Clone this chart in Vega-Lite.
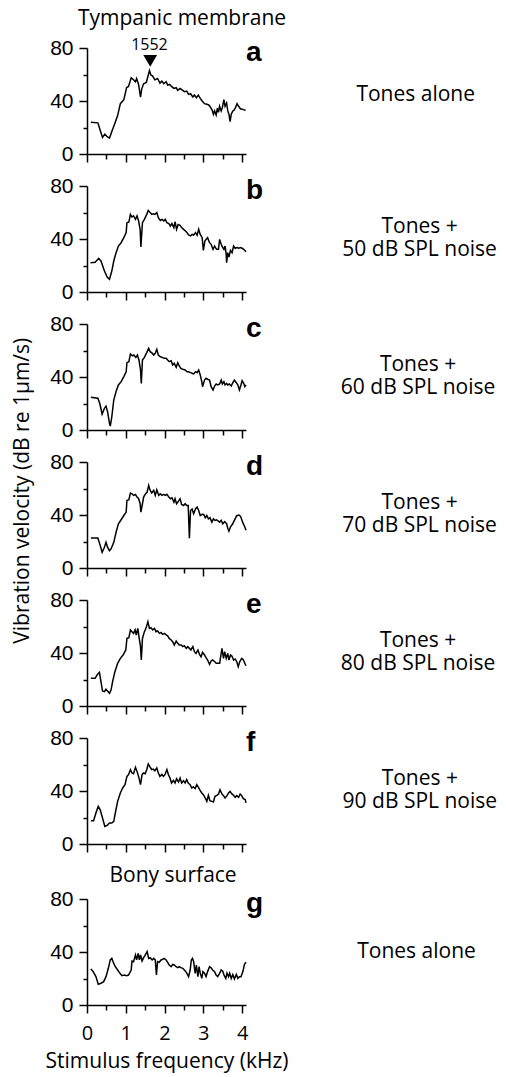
{
  "$schema": "https://vega.github.io/schema/vega-lite/v6.json",
  "padding": {"left": 12, "top": 8, "right": 0, "bottom": 6},
  "title": {"text": "Vibration velocity (dB re 1µm/s)", "orient": "left", "anchor": "middle", "offset": 12, "dx": 49},
  "spacing": 11,
  "datasets": {
    "a": [{"f":0.10,"v":24},{"f":0.28,"v":23.5},{"f":0.34,"v":18},{"f":0.40,"v":12.5},{"f":0.46,"v":15},{"f":0.52,"v":13},{"f":0.58,"v":12},{"f":0.64,"v":17},{"f":0.71,"v":22.5},{"f":0.79,"v":29},{"f":0.86,"v":38},{"f":0.95,"v":41},{"f":1.02,"v":50},{"f":1.07,"v":51},{"f":1.14,"v":57.5},{"f":1.20,"v":56},{"f":1.25,"v":54.5},{"f":1.28,"v":57},{"f":1.33,"v":52.5},{"f":1.38,"v":43},{"f":1.41,"v":49},{"f":1.46,"v":53},{"f":1.53,"v":54},{"f":1.61,"v":63},{"f":1.65,"v":59.5},{"f":1.69,"v":59},{"f":1.75,"v":56},{"f":1.82,"v":57},{"f":1.88,"v":53.5},{"f":1.93,"v":55},{"f":1.98,"v":53},{"f":2.04,"v":54.5},{"f":2.08,"v":52},{"f":2.13,"v":52.5},{"f":2.18,"v":51},{"f":2.24,"v":49.5},{"f":2.30,"v":50},{"f":2.34,"v":48},{"f":2.40,"v":49.5},{"f":2.47,"v":48},{"f":2.51,"v":47},{"f":2.57,"v":47.5},{"f":2.62,"v":45},{"f":2.67,"v":45.5},{"f":2.73,"v":43},{"f":2.77,"v":44.5},{"f":2.82,"v":42.5},{"f":2.87,"v":44.5},{"f":2.92,"v":42},{"f":2.97,"v":40},{"f":3.03,"v":38},{"f":3.09,"v":37.5},{"f":3.14,"v":37},{"f":3.18,"v":35.5},{"f":3.23,"v":33},{"f":3.26,"v":30},{"f":3.29,"v":32.5},{"f":3.33,"v":29.5},{"f":3.36,"v":34.5},{"f":3.39,"v":31.5},{"f":3.42,"v":36},{"f":3.46,"v":32.5},{"f":3.49,"v":35},{"f":3.53,"v":41},{"f":3.56,"v":36},{"f":3.60,"v":38.5},{"f":3.63,"v":32.5},{"f":3.66,"v":30},{"f":3.69,"v":24.5},{"f":3.72,"v":30},{"f":3.76,"v":32.5},{"f":3.79,"v":33},{"f":3.83,"v":35},{"f":3.87,"v":38},{"f":3.91,"v":36},{"f":3.96,"v":34},{"f":3.99,"v":34},{"f":4.03,"v":33.5},{"f":4.09,"v":33}],
    "b": [{"f":0.09,"v":22},{"f":0.21,"v":22.5},{"f":0.30,"v":25.4},{"f":0.36,"v":23.4},{"f":0.45,"v":15.8},{"f":0.52,"v":11.3},{"f":0.58,"v":9.6},{"f":0.64,"v":15.8},{"f":0.69,"v":23.4},{"f":0.75,"v":29.7},{"f":0.81,"v":34.7},{"f":0.88,"v":37.2},{"f":0.95,"v":41},{"f":1.01,"v":44.8},{"f":1.03,"v":52.3},{"f":1.08,"v":52.8},{"f":1.12,"v":58.6},{"f":1.16,"v":56.6},{"f":1.20,"v":57.4},{"f":1.25,"v":54.8},{"f":1.29,"v":57.4},{"f":1.33,"v":53.6},{"f":1.37,"v":47.3},{"f":1.39,"v":34},{"f":1.43,"v":52.3},{"f":1.48,"v":54.8},{"f":1.54,"v":58.6},{"f":1.58,"v":61.6},{"f":1.63,"v":59.9},{"f":1.67,"v":58.6},{"f":1.71,"v":59},{"f":1.75,"v":58.6},{"f":1.80,"v":59.9},{"f":1.84,"v":56.1},{"f":1.89,"v":54},{"f":1.94,"v":54.8},{"f":1.98,"v":53.6},{"f":2.02,"v":54.8},{"f":2.06,"v":52.3},{"f":2.11,"v":51.6},{"f":2.15,"v":49.8},{"f":2.19,"v":51.6},{"f":2.24,"v":48.6},{"f":2.27,"v":53},{"f":2.31,"v":47.3},{"f":2.35,"v":51},{"f":2.40,"v":50.3},{"f":2.44,"v":48.6},{"f":2.49,"v":47.3},{"f":2.54,"v":46},{"f":2.58,"v":44.8},{"f":2.62,"v":43},{"f":2.67,"v":42.3},{"f":2.71,"v":43.5},{"f":2.75,"v":43},{"f":2.80,"v":44.8},{"f":2.84,"v":42.8},{"f":2.88,"v":47.3},{"f":2.92,"v":43.5},{"f":2.97,"v":41},{"f":3.00,"v":31.4},{"f":3.04,"v":38.5},{"f":3.07,"v":39.7},{"f":3.11,"v":41},{"f":3.16,"v":37.2},{"f":3.20,"v":36},{"f":3.25,"v":32.2},{"f":3.29,"v":34.7},{"f":3.34,"v":32.2},{"f":3.39,"v":32.2},{"f":3.42,"v":39.7},{"f":3.46,"v":36},{"f":3.49,"v":34},{"f":3.53,"v":32.2},{"f":3.56,"v":34.7},{"f":3.59,"v":28.4},{"f":3.60,"v":22.1},{"f":3.63,"v":29.7},{"f":3.66,"v":26.4},{"f":3.70,"v":31.4},{"f":3.74,"v":29.7},{"f":3.78,"v":34.7},{"f":3.82,"v":33},{"f":3.87,"v":33.5},{"f":3.91,"v":33},{"f":3.96,"v":33.5},{"f":4.00,"v":33},{"f":4.04,"v":32.2},{"f":4.10,"v":30.4}],
    "c": [{"f":0.10,"v":24.7},{"f":0.28,"v":24},{"f":0.33,"v":20},{"f":0.39,"v":12},{"f":0.45,"v":16.4},{"f":0.49,"v":18},{"f":0.53,"v":13.8},{"f":0.58,"v":5},{"f":0.60,"v":3},{"f":0.64,"v":10},{"f":0.69,"v":22.6},{"f":0.75,"v":29},{"f":0.81,"v":34},{"f":0.88,"v":36.5},{"f":0.95,"v":40.3},{"f":1.01,"v":44},{"f":1.03,"v":50.8},{"f":1.08,"v":51.5},{"f":1.12,"v":57.4},{"f":1.17,"v":56},{"f":1.21,"v":56.6},{"f":1.26,"v":54.8},{"f":1.30,"v":56.6},{"f":1.34,"v":52.8},{"f":1.38,"v":45.3},{"f":1.40,"v":35.2},{"f":1.43,"v":52.8},{"f":1.48,"v":54.8},{"f":1.54,"v":58.4},{"f":1.59,"v":61.6},{"f":1.63,"v":59.1},{"f":1.68,"v":58},{"f":1.72,"v":56.6},{"f":1.76,"v":57.9},{"f":1.80,"v":60.9},{"f":1.84,"v":56.6},{"f":1.89,"v":55.3},{"f":1.94,"v":54.8},{"f":1.99,"v":54.1},{"f":2.04,"v":54.1},{"f":2.08,"v":52.8},{"f":2.12,"v":51.6},{"f":2.17,"v":52.3},{"f":2.21,"v":49},{"f":2.25,"v":50.3},{"f":2.30,"v":47.3},{"f":2.34,"v":50.8},{"f":2.38,"v":48.3},{"f":2.42,"v":46.5},{"f":2.47,"v":45.8},{"f":2.53,"v":45.3},{"f":2.58,"v":44},{"f":2.62,"v":44},{"f":2.67,"v":43.3},{"f":2.71,"v":42.8},{"f":2.75,"v":42.3},{"f":2.80,"v":44},{"f":2.84,"v":43.3},{"f":2.88,"v":45.3},{"f":2.92,"v":41.5},{"f":2.96,"v":36.5},{"f":2.98,"v":32.7},{"f":3.03,"v":37.7},{"f":3.07,"v":39},{"f":3.11,"v":38.3},{"f":3.16,"v":37.7},{"f":3.20,"v":32.7},{"f":3.25,"v":30.2},{"f":3.29,"v":33.2},{"f":3.33,"v":34.7},{"f":3.37,"v":34},{"f":3.42,"v":34.7},{"f":3.46,"v":37.7},{"f":3.49,"v":34.7},{"f":3.53,"v":36.5},{"f":3.56,"v":34},{"f":3.60,"v":35.2},{"f":3.63,"v":34},{"f":3.67,"v":34.7},{"f":3.72,"v":33.2},{"f":3.76,"v":35.7},{"f":3.80,"v":37.7},{"f":3.85,"v":35.7},{"f":3.89,"v":34},{"f":3.93,"v":30.2},{"f":3.97,"v":34},{"f":4.00,"v":37.2},{"f":4.04,"v":35.2},{"f":4.07,"v":32.7},{"f":4.10,"v":34}],
    "d": [{"f":0.10,"v":22.7},{"f":0.28,"v":22.7},{"f":0.33,"v":18},{"f":0.39,"v":11.9},{"f":0.45,"v":15.7},{"f":0.49,"v":19.4},{"f":0.53,"v":15.7},{"f":0.58,"v":13.1},{"f":0.62,"v":14.4},{"f":0.69,"v":19.4},{"f":0.75,"v":27},{"f":0.81,"v":33.3},{"f":0.88,"v":36.4},{"f":0.95,"v":39.6},{"f":1.01,"v":42.2},{"f":1.03,"v":51},{"f":1.08,"v":51.5},{"f":1.12,"v":56.6},{"f":1.16,"v":56},{"f":1.20,"v":54.8},{"f":1.25,"v":55.5},{"f":1.29,"v":53.5},{"f":1.33,"v":52.5},{"f":1.37,"v":48.5},{"f":1.39,"v":42.2},{"f":1.43,"v":48.5},{"f":1.46,"v":53.5},{"f":1.50,"v":55.6},{"f":1.55,"v":57.3},{"f":1.59,"v":62.4},{"f":1.63,"v":58.6},{"f":1.67,"v":56.6},{"f":1.72,"v":58.6},{"f":1.76,"v":54.8},{"f":1.80,"v":59.1},{"f":1.85,"v":54.8},{"f":1.89,"v":56},{"f":1.93,"v":54.8},{"f":1.98,"v":55.6},{"f":2.02,"v":54.8},{"f":2.06,"v":55.6},{"f":2.11,"v":53.5},{"f":2.15,"v":52.3},{"f":2.19,"v":53},{"f":2.24,"v":49.7},{"f":2.27,"v":52.3},{"f":2.31,"v":48.5},{"f":2.36,"v":50.5},{"f":2.40,"v":52.3},{"f":2.44,"v":48},{"f":2.49,"v":47.2},{"f":2.53,"v":48.5},{"f":2.57,"v":47.2},{"f":2.61,"v":47.2},{"f":2.64,"v":22.5},{"f":2.67,"v":43.4},{"f":2.71,"v":44.5},{"f":2.75,"v":40.9},{"f":2.80,"v":44.7},{"f":2.84,"v":46},{"f":2.88,"v":43.4},{"f":2.92,"v":39.6},{"f":2.97,"v":40.5},{"f":3.01,"v":40.4},{"f":3.05,"v":37.9},{"f":3.09,"v":39.6},{"f":3.13,"v":37.1},{"f":3.17,"v":38},{"f":3.22,"v":34.6},{"f":3.26,"v":37.1},{"f":3.30,"v":35.9},{"f":3.34,"v":36.4},{"f":3.39,"v":35.4},{"f":3.42,"v":34.6},{"f":3.46,"v":36},{"f":3.50,"v":33.3},{"f":3.55,"v":35},{"f":3.60,"v":33.5},{"f":3.63,"v":30},{"f":3.66,"v":27.8},{"f":3.70,"v":31},{"f":3.75,"v":33},{"f":3.80,"v":36},{"f":3.86,"v":39.5},{"f":3.92,"v":40},{"f":3.96,"v":39},{"f":4.02,"v":34},{"f":4.07,"v":31},{"f":4.10,"v":28.5}],
    "e": [{"f":0.10,"v":20.9},{"f":0.21,"v":20.9},{"f":0.26,"v":23.4},{"f":0.32,"v":25.4},{"f":0.36,"v":18.4},{"f":0.40,"v":11.3},{"f":0.45,"v":10.8},{"f":0.49,"v":12.6},{"f":0.53,"v":11.3},{"f":0.58,"v":9.6},{"f":0.62,"v":12},{"f":0.66,"v":18.4},{"f":0.72,"v":25.9},{"f":0.79,"v":32.2},{"f":0.86,"v":36},{"f":0.93,"v":38.5},{"f":1.00,"v":42.3},{"f":1.03,"v":51},{"f":1.08,"v":51.5},{"f":1.12,"v":57.4},{"f":1.16,"v":56},{"f":1.20,"v":54.8},{"f":1.24,"v":57.4},{"f":1.27,"v":53.6},{"f":1.31,"v":58.6},{"f":1.34,"v":52.3},{"f":1.38,"v":44.8},{"f":1.40,"v":34.7},{"f":1.43,"v":51},{"f":1.48,"v":56.1},{"f":1.52,"v":58.6},{"f":1.57,"v":63.6},{"f":1.61,"v":58.6},{"f":1.65,"v":59.1},{"f":1.69,"v":57.4},{"f":1.74,"v":58.6},{"f":1.78,"v":56.1},{"f":1.82,"v":56.6},{"f":1.87,"v":54.8},{"f":1.91,"v":55.5},{"f":1.95,"v":54.1},{"f":2.00,"v":54.8},{"f":2.04,"v":53.6},{"f":2.08,"v":53},{"f":2.12,"v":51},{"f":2.17,"v":49.8},{"f":2.21,"v":48.6},{"f":2.25,"v":46},{"f":2.30,"v":49},{"f":2.34,"v":47.3},{"f":2.38,"v":46},{"f":2.43,"v":46},{"f":2.47,"v":44.8},{"f":2.51,"v":45.5},{"f":2.56,"v":43.5},{"f":2.60,"v":44.8},{"f":2.64,"v":43.5},{"f":2.68,"v":42.3},{"f":2.73,"v":44.8},{"f":2.77,"v":41},{"f":2.81,"v":39.7},{"f":2.86,"v":42.3},{"f":2.90,"v":39},{"f":2.94,"v":37.2},{"f":2.98,"v":40.5},{"f":3.03,"v":38.5},{"f":3.07,"v":36.5},{"f":3.11,"v":34.7},{"f":3.16,"v":31.4},{"f":3.20,"v":34},{"f":3.24,"v":34.7},{"f":3.29,"v":33.5},{"f":3.33,"v":32.2},{"f":3.37,"v":32.2},{"f":3.42,"v":32.2},{"f":3.46,"v":39.7},{"f":3.48,"v":43.5},{"f":3.52,"v":36},{"f":3.55,"v":41},{"f":3.59,"v":36},{"f":3.63,"v":39.7},{"f":3.66,"v":34.7},{"f":3.70,"v":38.5},{"f":3.74,"v":37.5},{"f":3.78,"v":34.7},{"f":3.82,"v":35.5},{"f":3.86,"v":33.5},{"f":3.90,"v":29.7},{"f":3.94,"v":33.5},{"f":3.99,"v":36},{"f":4.03,"v":35},{"f":4.07,"v":32.2},{"f":4.10,"v":30.4}],
    "f": [{"f":0.10,"v":17.6},{"f":0.17,"v":17.6},{"f":0.23,"v":23.4},{"f":0.29,"v":28.4},{"f":0.34,"v":25.9},{"f":0.40,"v":19.6},{"f":0.46,"v":13.3},{"f":0.52,"v":14.1},{"f":0.58,"v":15.8},{"f":0.64,"v":15.8},{"f":0.69,"v":17.1},{"f":0.73,"v":23.4},{"f":0.79,"v":32.2},{"f":0.86,"v":38.5},{"f":0.92,"v":42.3},{"f":0.98,"v":44.8},{"f":1.03,"v":51},{"f":1.07,"v":52.3},{"f":1.12,"v":56.1},{"f":1.16,"v":53.6},{"f":1.20,"v":53},{"f":1.25,"v":57.9},{"f":1.29,"v":54.8},{"f":1.33,"v":51},{"f":1.38,"v":44.8},{"f":1.42,"v":52.3},{"f":1.46,"v":53.6},{"f":1.50,"v":53},{"f":1.54,"v":56.1},{"f":1.58,"v":60.4},{"f":1.63,"v":57.9},{"f":1.67,"v":56.1},{"f":1.71,"v":56.5},{"f":1.75,"v":55.3},{"f":1.80,"v":57.4},{"f":1.84,"v":53.6},{"f":1.88,"v":51},{"f":1.93,"v":52.5},{"f":1.97,"v":51},{"f":2.01,"v":52.3},{"f":2.06,"v":56.1},{"f":2.10,"v":52.3},{"f":2.14,"v":49.8},{"f":2.18,"v":46},{"f":2.23,"v":48},{"f":2.27,"v":46},{"f":2.31,"v":49.3},{"f":2.36,"v":46.8},{"f":2.40,"v":49.8},{"f":2.44,"v":46},{"f":2.49,"v":47.8},{"f":2.53,"v":46},{"f":2.57,"v":48.6},{"f":2.61,"v":46},{"f":2.66,"v":44.8},{"f":2.70,"v":42.3},{"f":2.74,"v":43},{"f":2.79,"v":41.8},{"f":2.83,"v":44.8},{"f":2.87,"v":43},{"f":2.92,"v":40.3},{"f":2.96,"v":38.5},{"f":3.00,"v":37.2},{"f":3.04,"v":35.2},{"f":3.09,"v":32.2},{"f":3.13,"v":36.7},{"f":3.17,"v":32.7},{"f":3.22,"v":32.2},{"f":3.26,"v":31.7},{"f":3.30,"v":36},{"f":3.35,"v":36.7},{"f":3.39,"v":37.7},{"f":3.43,"v":41},{"f":3.48,"v":37.7},{"f":3.52,"v":36.5},{"f":3.56,"v":34.7},{"f":3.61,"v":36.5},{"f":3.65,"v":38.5},{"f":3.69,"v":39.7},{"f":3.73,"v":38},{"f":3.78,"v":36.7},{"f":3.82,"v":35.2},{"f":3.86,"v":36.5},{"f":3.91,"v":35.2},{"f":3.95,"v":37.7},{"f":3.99,"v":36.5},{"f":4.03,"v":34.2},{"f":4.08,"v":33.5},{"f":4.10,"v":31}],
    "g": [{"f":0.10,"v":27.2},{"f":0.16,"v":25.2},{"f":0.23,"v":21.4},{"f":0.29,"v":15.6},{"f":0.36,"v":16.4},{"f":0.43,"v":17.6},{"f":0.49,"v":21.4},{"f":0.55,"v":27.7},{"f":0.60,"v":34},{"f":0.64,"v":35.2},{"f":0.69,"v":31.4},{"f":0.73,"v":28.9},{"f":0.79,"v":26.4},{"f":0.85,"v":23.9},{"f":0.90,"v":22.1},{"f":0.96,"v":22.6},{"f":1.02,"v":22.1},{"f":1.07,"v":22.6},{"f":1.14,"v":26.4},{"f":1.16,"v":33.2},{"f":1.20,"v":32.7},{"f":1.25,"v":37.7},{"f":1.28,"v":34},{"f":1.32,"v":39},{"f":1.35,"v":34},{"f":1.38,"v":37.7},{"f":1.42,"v":33.2},{"f":1.46,"v":35.7},{"f":1.50,"v":37.7},{"f":1.55,"v":40.3},{"f":1.59,"v":35.2},{"f":1.63,"v":35.7},{"f":1.68,"v":34},{"f":1.72,"v":35.2},{"f":1.76,"v":34},{"f":1.79,"v":22.6},{"f":1.82,"v":32.7},{"f":1.86,"v":32.2},{"f":1.91,"v":34},{"f":1.95,"v":34.5},{"f":1.99,"v":35.2},{"f":2.04,"v":34},{"f":2.08,"v":32.2},{"f":2.12,"v":30.2},{"f":2.17,"v":28.9},{"f":2.21,"v":30.7},{"f":2.25,"v":30.2},{"f":2.30,"v":28.9},{"f":2.34,"v":28.2},{"f":2.38,"v":29},{"f":2.42,"v":28.2},{"f":2.47,"v":27.7},{"f":2.51,"v":26.4},{"f":2.55,"v":25.2},{"f":2.60,"v":22.6},{"f":2.62,"v":21.4},{"f":2.66,"v":26.4},{"f":2.69,"v":34},{"f":2.72,"v":35.2},{"f":2.75,"v":32.7},{"f":2.79,"v":23.9},{"f":2.82,"v":30.2},{"f":2.86,"v":21.4},{"f":2.89,"v":28.9},{"f":2.92,"v":24},{"f":2.96,"v":20.1},{"f":2.99,"v":25.2},{"f":3.03,"v":24},{"f":3.07,"v":21.4},{"f":3.11,"v":25.2},{"f":3.16,"v":28.9},{"f":3.20,"v":28},{"f":3.24,"v":26.4},{"f":3.29,"v":25.2},{"f":3.33,"v":22.6},{"f":3.37,"v":21.4},{"f":3.42,"v":23.9},{"f":3.46,"v":26.4},{"f":3.50,"v":25.5},{"f":3.54,"v":22.1},{"f":3.58,"v":20.1},{"f":3.61,"v":24},{"f":3.65,"v":21.4},{"f":3.68,"v":24},{"f":3.72,"v":20.1},{"f":3.76,"v":23},{"f":3.80,"v":19.6},{"f":3.85,"v":23},{"f":3.89,"v":20.1},{"f":3.93,"v":21.4},{"f":3.97,"v":21.4},{"f":4.02,"v":25.2},{"f":4.06,"v":30.7},{"f":4.10,"v":32.2}]
  },
  "vconcat": [
    {
      "width": 159, "height": 106,
      "title": {"text": "Tones alone", "orient": "right", "angle": 0, "align": "center", "baseline": "middle", "anchor": "middle", "offset": 11, "dy": -6},
      "layer": [
        {"data": {"name": "a"}, "mark": {"type": "line", "color": "black", "strokeWidth": 1.5},
         "encoding": {
           "x": {"field": "f", "type": "quantitative", "scale": {"domain": [0, 4.1], "nice": false, "zero": false}, "axis": {"values": [0,1,2,3,4], "tickSize": 8, "labels": false, "title": null}},
           "y": {"field": "v", "type": "quantitative", "scale": {"domain": [0, 80], "nice": false}, "axis": {"values": [0,40,80], "tickSize": 8, "title": null, "labelPadding": 6}}}},
        {"data": {"values": [{"f": 4.1, "v": 70, "label": "a"}]}, "mark": {"type": "text", "font": "Liberation Sans", "fontWeight": "bold", "fontSize": 28, "align": "left", "baseline": "alphabetic", "color": "black"},
         "encoding": {
           "x": {"field": "f", "type": "quantitative", "axis": {"values": [0.5,1.5,2.5,3.5], "tickSize": 5, "labels": false, "domain": false, "title": null, "orient": "bottom"}},
           "y": {"field": "v", "type": "quantitative", "axis": {"values": [20,60], "tickSize": 4, "labels": false, "domain": false, "title": null, "orient": "left"}},
           "text": {"field": "label"}}},
        {"data": {"values": [{"f": 1.63, "v": 70.3}]}, "mark": {"type": "point", "shape": "triangle-down", "filled": true, "color": "black", "size": 190, "opacity": 1},
         "encoding": {"x": {"field": "f", "type": "quantitative", "axis": null}, "y": {"field": "v", "type": "quantitative", "axis": null}}},
        {"data": {"values": [{"f": 1.61, "v": 78.5, "label": "1552"}, {"f": 2.45, "v": 97, "label": "Tympanic membrane"}]},
         "mark": {"type": "text", "font": "Open Sans", "align": "center", "baseline": "alphabetic", "color": "black"},
         "encoding": {"x": {"field": "f", "type": "quantitative", "axis": null}, "y": {"field": "v", "type": "quantitative", "axis": null}, "text": {"field": "label"},
           "size": {"field": "label", "type": "nominal", "scale": {"domain": ["1552", "Tympanic membrane"], "range": [16, 21]}, "legend": null}}}
      ],
      "resolve": {"axis": {"x": "independent", "y": "independent"}}
    },
    {
      "width": 159, "height": 106,
      "title": {"text": ["Tones +", "50 dB SPL noise"], "orient": "right", "angle": 0, "align": "center", "baseline": "middle", "anchor": "middle", "offset": 2, "dy": -12},
      "layer": [
        {"data": {"name": "b"}, "mark": {"type": "line", "color": "black", "strokeWidth": 1.5},
         "encoding": {
           "x": {"field": "f", "type": "quantitative", "scale": {"domain": [0, 4.1], "nice": false, "zero": false}, "axis": {"values": [0,1,2,3,4], "tickSize": 8, "labels": false, "title": null}},
           "y": {"field": "v", "type": "quantitative", "scale": {"domain": [0, 80], "nice": false}, "axis": {"values": [0,40,80], "tickSize": 8, "title": null, "labelPadding": 6}}}},
        {"data": {"values": [{"f": 4.1, "v": 70, "label": "b"}]}, "mark": {"type": "text", "font": "Liberation Sans", "fontWeight": "bold", "fontSize": 28, "align": "left", "baseline": "alphabetic", "color": "black"},
         "encoding": {
           "x": {"field": "f", "type": "quantitative", "axis": {"values": [0.5,1.5,2.5,3.5], "tickSize": 5, "labels": false, "domain": false, "title": null, "orient": "bottom"}},
           "y": {"field": "v", "type": "quantitative", "axis": {"values": [20,60], "tickSize": 4, "labels": false, "domain": false, "title": null, "orient": "left"}},
           "text": {"field": "label"}}}
      ],
      "resolve": {"axis": {"x": "independent", "y": "independent"}}
    },
    {
      "width": 159, "height": 106,
      "title": {"text": ["Tones +", "60 dB SPL noise"], "orient": "right", "angle": 0, "align": "center", "baseline": "middle", "anchor": "middle", "offset": 2, "dy": -12},
      "layer": [
        {"data": {"name": "c"}, "mark": {"type": "line", "color": "black", "strokeWidth": 1.5},
         "encoding": {
           "x": {"field": "f", "type": "quantitative", "scale": {"domain": [0, 4.1], "nice": false, "zero": false}, "axis": {"values": [0,1,2,3,4], "tickSize": 8, "labels": false, "title": null}},
           "y": {"field": "v", "type": "quantitative", "scale": {"domain": [0, 80], "nice": false}, "axis": {"values": [0,40,80], "tickSize": 8, "title": null, "labelPadding": 6}}}},
        {"data": {"values": [{"f": 4.1, "v": 70, "label": "c"}]}, "mark": {"type": "text", "font": "Liberation Sans", "fontWeight": "bold", "fontSize": 28, "align": "left", "baseline": "alphabetic", "color": "black"},
         "encoding": {
           "x": {"field": "f", "type": "quantitative", "axis": {"values": [0.5,1.5,2.5,3.5], "tickSize": 5, "labels": false, "domain": false, "title": null, "orient": "bottom"}},
           "y": {"field": "v", "type": "quantitative", "axis": {"values": [20,60], "tickSize": 4, "labels": false, "domain": false, "title": null, "orient": "left"}},
           "text": {"field": "label"}}}
      ],
      "resolve": {"axis": {"x": "independent", "y": "independent"}}
    },
    {
      "width": 159, "height": 106,
      "title": {"text": ["Tones +", "70 dB SPL noise"], "orient": "right", "angle": 0, "align": "center", "baseline": "middle", "anchor": "middle", "offset": 2, "dy": -12},
      "layer": [
        {"data": {"name": "d"}, "mark": {"type": "line", "color": "black", "strokeWidth": 1.5},
         "encoding": {
           "x": {"field": "f", "type": "quantitative", "scale": {"domain": [0, 4.1], "nice": false, "zero": false}, "axis": {"values": [0,1,2,3,4], "tickSize": 8, "labels": false, "title": null}},
           "y": {"field": "v", "type": "quantitative", "scale": {"domain": [0, 80], "nice": false}, "axis": {"values": [0,40,80], "tickSize": 8, "title": null, "labelPadding": 6}}}},
        {"data": {"values": [{"f": 4.1, "v": 70, "label": "d"}]}, "mark": {"type": "text", "font": "Liberation Sans", "fontWeight": "bold", "fontSize": 28, "align": "left", "baseline": "alphabetic", "color": "black"},
         "encoding": {
           "x": {"field": "f", "type": "quantitative", "axis": {"values": [0.5,1.5,2.5,3.5], "tickSize": 5, "labels": false, "domain": false, "title": null, "orient": "bottom"}},
           "y": {"field": "v", "type": "quantitative", "axis": {"values": [20,60], "tickSize": 4, "labels": false, "domain": false, "title": null, "orient": "left"}},
           "text": {"field": "label"}}}
      ],
      "resolve": {"axis": {"x": "independent", "y": "independent"}}
    },
    {
      "width": 159, "height": 106,
      "title": {"text": ["Tones +", "80 dB SPL noise"], "orient": "right", "angle": 0, "align": "center", "baseline": "middle", "anchor": "middle", "offset": 2, "dy": -12},
      "layer": [
        {"data": {"name": "e"}, "mark": {"type": "line", "color": "black", "strokeWidth": 1.5},
         "encoding": {
           "x": {"field": "f", "type": "quantitative", "scale": {"domain": [0, 4.1], "nice": false, "zero": false}, "axis": {"values": [0,1,2,3,4], "tickSize": 8, "labels": false, "title": null}},
           "y": {"field": "v", "type": "quantitative", "scale": {"domain": [0, 80], "nice": false}, "axis": {"values": [0,40,80], "tickSize": 8, "title": null, "labelPadding": 6}}}},
        {"data": {"values": [{"f": 4.1, "v": 70, "label": "e"}]}, "mark": {"type": "text", "font": "Liberation Sans", "fontWeight": "bold", "fontSize": 28, "align": "left", "baseline": "alphabetic", "color": "black"},
         "encoding": {
           "x": {"field": "f", "type": "quantitative", "axis": {"values": [0.5,1.5,2.5,3.5], "tickSize": 5, "labels": false, "domain": false, "title": null, "orient": "bottom"}},
           "y": {"field": "v", "type": "quantitative", "axis": {"values": [20,60], "tickSize": 4, "labels": false, "domain": false, "title": null, "orient": "left"}},
           "text": {"field": "label"}}}
      ],
      "resolve": {"axis": {"x": "independent", "y": "independent"}}
    },
    {
      "width": 159, "height": 106,
      "title": {"text": ["Tones +", "90 dB SPL noise"], "orient": "right", "angle": 0, "align": "center", "baseline": "middle", "anchor": "middle", "offset": 10, "dy": -12},
      "layer": [
        {"data": {"name": "f"}, "mark": {"type": "line", "color": "black", "strokeWidth": 1.5},
         "encoding": {
           "x": {"field": "f", "type": "quantitative", "scale": {"domain": [0, 4.1], "nice": false, "zero": false}, "axis": {"values": [0,1,2,3,4], "tickSize": 8, "labels": false, "title": null}},
           "y": {"field": "v", "type": "quantitative", "scale": {"domain": [0, 80], "nice": false}, "axis": {"values": [0,40,80], "tickSize": 8, "title": null, "labelPadding": 6}}}},
        {"data": {"values": [{"f": 4.1, "v": 70, "label": "f"}]}, "mark": {"type": "text", "font": "Liberation Sans", "fontWeight": "bold", "fontSize": 28, "align": "left", "baseline": "alphabetic", "color": "black"},
         "encoding": {
           "x": {"field": "f", "type": "quantitative", "axis": {"values": [0.5,1.5,2.5,3.5], "tickSize": 5, "labels": false, "domain": false, "title": null, "orient": "bottom"}},
           "y": {"field": "v", "type": "quantitative", "axis": {"values": [20,60], "tickSize": 4, "labels": false, "domain": false, "title": null, "orient": "left"}},
           "text": {"field": "label"}}}
      ],
      "resolve": {"axis": {"x": "independent", "y": "independent"}}
    },
    {
      "width": 159, "height": 106,
      "title": {"text": "Tones alone", "orient": "right", "angle": 0, "align": "center", "baseline": "middle", "anchor": "middle", "offset": 10},
      "layer": [
        {"data": {"name": "g"}, "mark": {"type": "line", "color": "black", "strokeWidth": 1.5},
         "encoding": {
           "x": {"field": "f", "type": "quantitative", "scale": {"domain": [0, 4.1], "nice": false, "zero": false}, "axis": {"values": [0,1,2,3,4], "tickSize": 8, "title": "Stimulus frequency (kHz)", "labelPadding": 10, "titlePadding": 7}},
           "y": {"field": "v", "type": "quantitative", "scale": {"domain": [0, 80], "nice": false}, "axis": {"values": [0,40,80], "tickSize": 8, "title": null, "labelPadding": 6}}}},
        {"data": {"values": [{"f": 4.1, "v": 70, "label": "g"}]}, "mark": {"type": "text", "font": "Liberation Sans", "fontWeight": "bold", "fontSize": 28, "align": "left", "baseline": "alphabetic", "color": "black"},
         "encoding": {
           "x": {"field": "f", "type": "quantitative", "axis": {"values": [0.5,1.5,2.5,3.5], "tickSize": 5, "labels": false, "domain": false, "title": null, "orient": "bottom"}},
           "y": {"field": "v", "type": "quantitative", "axis": {"values": [20,60], "tickSize": 4, "labels": false, "domain": false, "title": null, "orient": "left"}},
           "text": {"field": "label"}}},
        {"data": {"values": [{"f": 2.22, "v": 92.8, "label": "Bony surface"}]}, "mark": {"type": "text", "font": "Open Sans", "fontSize": 21, "align": "center", "baseline": "alphabetic", "color": "black"},
         "encoding": {"x": {"field": "f", "type": "quantitative", "axis": null}, "y": {"field": "v", "type": "quantitative", "axis": null}, "text": {"field": "label"}}}
      ],
      "resolve": {"axis": {"x": "independent", "y": "independent"}}
    }
  ],
  "config": {
    "view": {"stroke": null},
    "font": "Open Sans",
    "title": {"font": "Open Sans", "fontSize": 21, "fontWeight": "normal", "color": "black", "lineHeight": 23},
    "axis": {"domainColor": "black", "tickColor": "black", "domainWidth": 1.5, "tickWidth": 1.5, "labelColor": "black", "titleColor": "black", "grid": false, "labelFont": "Liberation Sans", "labelFontSize": 21, "titleFont": "Open Sans", "titleFontSize": 21, "titleFontWeight": "normal", "labelFlush": false},
    "axisX": {"labelFont": "Open Sans", "labelFontSize": 20}
  }
}
